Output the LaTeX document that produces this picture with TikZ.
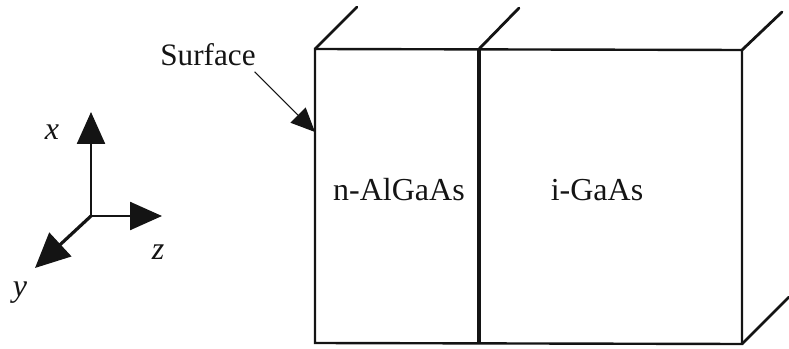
\documentclass[tikz,border=0pt]{standalone}
\usepackage{fontspec}
\setmainfont{Liberation Serif}
\usetikzlibrary{arrows.meta,positioning,calc}
\definecolor{inkblack}{RGB}{20, 20, 20}
\tikzset{
  edgeline/.style={draw=inkblack,line width=2.1pt,line cap=round},
  frontline/.style={draw=inkblack,line width=1.8pt,line join=miter},
  layerline/.style={draw=inkblack,line width=3.6pt},
  axisarr/.style={draw=inkblack,line width=1.8pt,-{Triangle[length=24pt,width=21pt]}},
  leadarr/.style={draw=inkblack,line width=0.8pt,-{Triangle[length=18pt,width=16pt]}},
  lbl/.style={font=\fontsize{24}{26}\selectfont,text=inkblack,inner sep=0pt},
  axlbl/.style={font=\fontsize{24}{26}\selectfont\itshape,text=inkblack,inner sep=0pt},
}
\begin{document}
\begin{tikzpicture}[x=0.75pt,y=-0.75pt]
        \useasboundingbox (0,0) rectangle (789,349);
        % block corners
        \coordinate (tl) at (315,49);
        \coordinate (tm) at (479,49);
        \coordinate (tr) at (742,50);
        \coordinate (bl) at (315,343);
        \coordinate (bm) at (479,343);
        \coordinate (br) at (742,344);
        \coordinate (tlback) at (357,7);
        \coordinate (tmback) at (519,8);
        \coordinate (trback) at (782,12);
        \coordinate (brback) at (789,297);
        \coordinate (hit) at (315,132);
        % axes
        \coordinate (o) at (91,216);
        \coordinate (xtip) at (91,112);
        \coordinate (ztip) at (162,216);
        \coordinate (ytip) at (35,268);
        \node[lbl,font=\fontsize{23.4}{26}\selectfont] (surface) at (208,55) {Surface};
        \node[lbl] (nlayer) at (399,190) {n-AlGaAs};
        \node[lbl] (ilayer) at (597,190) {i-GaAs};
        \node[axlbl] (xlbl) at (52,132) {x};
        \node[axlbl] (ylbl) at (20,293) {y};
        \node[axlbl] (zlbl) at (158,252) {z};
        \draw[frontline] (tl)--(tr)--(br)--(bl)--cycle;
        \draw[layerline] (tm)--(bm);
        \draw[edgeline] (tl)--(tlback);
        \draw[edgeline] (tm)--(tmback);
        \draw[edgeline] (tr)--(trback);
        \draw[edgeline] (br)--(brback);
        \draw[leadarr] ([xshift=-1pt,yshift=-4pt]surface.south east)--(hit);
        \draw[axisarr] (o)--(xtip);
        \draw[axisarr] (o)--(ztip);
        \draw[axisarr,line width=2.4pt,-{Triangle[length=26pt,width=24pt]}] (o)--(ytip);
      \end{tikzpicture}
\end{document}
